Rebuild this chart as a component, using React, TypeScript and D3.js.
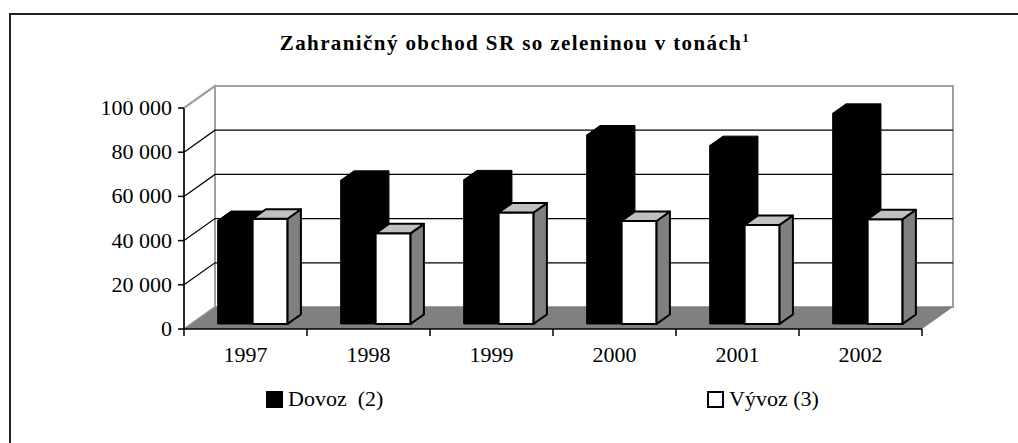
import React, { useEffect, useRef } from "react";
import * as d3 from "d3";

const years = ["1997", "1998", "1999", "2000", "2001", "2002"];
const seriesNames = ["Dovoz  (2)", "Vývoz (3)"];
const dovoz = [46800, 65000, 65200, 85500, 80700, 95300];
const vyvoz = [47600, 41000, 50400, 46600, 44800, 47400];
const yTicks = [0, 20000, 40000, 60000, 80000, 100000];

const App = () => {
    const chartRef = useRef<SVGSVGElement>(null);

    useEffect(() => {
        const svg = d3.select(chartRef.current);
        svg.selectAll("*").remove();

        const width = 1018;
        const height = 443;
        const left = 184;
        const right = 922;
        const depthX = 31;
        const depthY = 22;
        const font = "'Liberation Serif', 'Times New Roman', serif";

        const y = d3.scaleLinear().domain([0, 100000]).range([329, 108]);
        const x0 = d3.scaleBand().domain(years).range([left, right]);
        const x1 = d3.scaleBand().domain(["d", "v"]).range([0, x0.bandwidth()])
            .paddingInner(0).paddingOuter(0.76);

        // oblique projection: z = 0 front plane, z = 1 back wall
        const P = (x: number, v: number, z: number) => [x + z * depthX, y(v) - z * depthY];
        const poly = (pts: number[][]) => "M" + pts.map(p => p.join(",")).join("L") + "Z";

        // outer frame
        svg.append("rect")
            .attr("x", 10).attr("y", 14)
            .attr("width", width).attr("height", height)
            .attr("fill", "none").attr("stroke", "#222").attr("stroke-width", 2);

        // title
        const title = svg.append("text")
            .attr("x", 515).attr("y", 50)
            .attr("text-anchor", "middle")
            .style("font-family", font)
            .style("font-weight", "bold")
            .style("font-size", "21px")
            .style("letter-spacing", "1.4px")
            .text("Zahraničný obchod SR so zeleninou v tonách");
        title.append("tspan")
            .attr("dy", -8)
            .style("font-size", "13px")
            .text("1");

        const wallStroke = "#a0a0a0";

        // back wall
        svg.append("path")
            .attr("d", poly([P(left, 0, 1), P(right, 0, 1), P(right, 100000, 1), P(left, 100000, 1)]))
            .attr("fill", "#fff").attr("stroke", wallStroke).attr("stroke-width", 2);

        // left wall
        svg.append("path")
            .attr("d", poly([P(left, 0, 0), P(left, 0, 1), P(left, 100000, 1), P(left, 100000, 0)]))
            .attr("fill", "#fff").attr("stroke", wallStroke).attr("stroke-width", 2);

        // gridlines on both walls
        yTicks.filter(t => t > 0 && t < 100000).forEach(t => {
            const a = P(left, t, 0), b = P(left, t, 1), c = P(right, t, 1);
            svg.append("path")
                .attr("d", `M${a.join(",")}L${b.join(",")}L${c.join(",")}`)
                .attr("fill", "none").attr("stroke", "#000").attr("stroke-width", 1.2);
        });

        // floor
        svg.append("path")
            .attr("d", poly([P(left, 0, 0), P(right, 0, 0), P(right, 0, 1), P(left, 0, 1)]))
            .attr("fill", "#808080");

        // y axis
        svg.append("line")
            .attr("x1", left).attr("x2", left)
            .attr("y1", y(100000)).attr("y2", y(0))
            .attr("stroke", "#000").attr("stroke-width", 1.5);
        svg.append("line")
            .attr("x1", left).attr("x2", left + depthX)
            .attr("y1", y(100000)).attr("y2", y(100000) - depthY)
            .attr("stroke", wallStroke).attr("stroke-width", 2);

        const fmt = (v: number) => d3.format(",")(v).replace(/,/g, " ");
        yTicks.forEach(t => {
            svg.append("line")
                .attr("x1", left - 6).attr("x2", left)
                .attr("y1", y(t)).attr("y2", y(t))
                .attr("stroke", "#000").attr("stroke-width", 1.5);
            svg.append("text")
                .attr("x", left - 12).attr("y", y(t) + 7)
                .attr("text-anchor", "end")
                .style("font-family", font)
                .style("font-size", "22px")
                .text(fmt(t));
        });

        // x axis
        svg.append("line")
            .attr("x1", left).attr("x2", right)
            .attr("y1", y(0)).attr("y2", y(0))
            .attr("stroke", "#000").attr("stroke-width", 1.5);
        [...years.map(d => x0(d)!), right].forEach(xx => {
            svg.append("line")
                .attr("x1", xx).attr("x2", xx)
                .attr("y1", y(0)).attr("y2", y(0) + 7)
                .attr("stroke", "#000").attr("stroke-width", 1.5);
        });
        years.forEach(d => {
            svg.append("text")
                .attr("x", x0(d)! + x0.bandwidth() / 2)
                .attr("y", 362)
                .attr("text-anchor", "middle")
                .style("font-family", font)
                .style("font-size", "22px")
                .text(d);
        });

        // 3D bars
        const z0 = 0.23;
        const z1 = 0.66;
        const drawBar = (xs: number, v: number, dark: boolean) => {
            const w = x1.bandwidth();
            const xe = xs + w;
            const g = svg.append("g");
            const sw = dark ? 1 : 2;
            const faces = [
                { pts: [P(xs, 0, z0), P(xe, 0, z0), P(xe, v, z0), P(xs, v, z0)], fill: dark ? "#000" : "#fff" },
                { pts: [P(xe, 0, z0), P(xe, 0, z1), P(xe, v, z1), P(xe, v, z0)], fill: dark ? "#000" : "#808080" },
                { pts: [P(xs, v, z0), P(xe, v, z0), P(xe, v, z1), P(xs, v, z1)], fill: dark ? "#000" : "#c0c0c0" }
            ];
            faces.forEach(f => {
                g.append("path")
                    .attr("d", poly(f.pts))
                    .attr("fill", f.fill).attr("stroke", "#000").attr("stroke-width", sw)
                    .attr("stroke-linejoin", "round");
            });
        };

        years.forEach((d, i) => {
            drawBar(x0(d)! + x1("d")!, dovoz[i], true);
            drawBar(x0(d)! + x1("v")!, vyvoz[i], false);
        });

        // legend
        const legend = [
            { name: seriesNames[0], fill: "#000", x: 267 },
            { name: seriesNames[1], fill: "#fff", x: 708 }
        ];
        legend.forEach(l => {
            svg.append("rect")
                .attr("x", l.x).attr("y", 392)
                .attr("width", 15).attr("height", 15)
                .attr("fill", l.fill).attr("stroke", "#000").attr("stroke-width", 2);
            svg.append("text")
                .attr("x", l.x + 21).attr("y", 406)
                .attr("xml:space", "preserve")
                .style("white-space", "pre")
                .style("font-family", font)
                .style("font-size", "22px")
                .text(l.name);
        });
    }, []);

    return <svg ref={chartRef} width={1018} height={443}
        style={{ position: "absolute", left: 0, top: 0, background: "#fff" }}></svg>;
};

export default App;
